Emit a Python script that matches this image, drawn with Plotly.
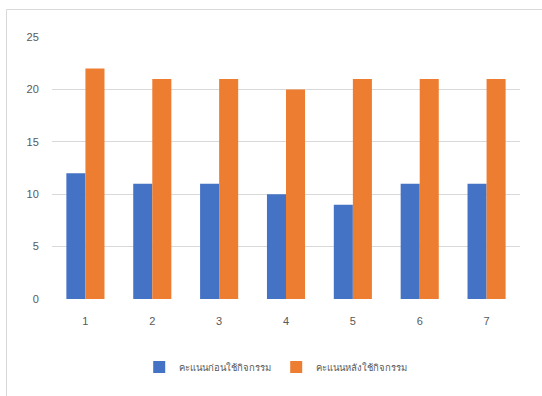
import plotly.graph_objects as go

categories = ["1", "2", "3", "4", "5", "6", "7"]
before_scores = [12, 11, 11, 10, 9, 11, 11]
after_scores = [22, 21, 21, 20, 21, 21, 21]
y_ticks = [0, 5, 10, 15, 20, 25]

fig = go.Figure()
fig.add_trace(go.Bar(x=categories, y=before_scores, name="คะแนนก่อนใช้กิจกรรม",
                     marker=dict(color="#4472C4", line=dict(width=0))))
fig.add_trace(go.Bar(x=categories, y=after_scores, name="คะแนนหลังใช้กิจกรรม",
                     marker=dict(color="#ED7D31", line=dict(width=0))))

grey_text = dict(family="Arial, Liberation Sans, sans-serif", size=11, color="#595959")

fig.update_layout(
    width=542, height=396,
    margin=dict(l=52, r=22, t=37, b=97),
    paper_bgcolor="white", plot_bgcolor="white",
    barmode="group", bargap=0.43, bargroupgap=0,
    font=grey_text,
    showlegend=True,
    legend=dict(orientation="h", x=0.478, xanchor="center", y=-0.26, yanchor="middle",
                font=dict(family="Arial, Liberation Sans, sans-serif", size=9.5, color="#595959"),
                itemwidth=30, tracegroupgap=0),
    xaxis=dict(showgrid=False, showline=False, zeroline=False,
               ticks="outside", ticklen=12, tickcolor="rgba(0,0,0,0)",
               tickfont=grey_text),
    yaxis=dict(range=[0, 25], tickvals=y_ticks, showgrid=True, gridcolor="#D9D9D9",
               gridwidth=1, zeroline=False, showline=False,
               ticks="outside", ticklen=10, tickcolor="rgba(0,0,0,0)",
               tickfont=grey_text),
    shapes=[
        dict(type="line", xref="paper", yref="paper", x0=-0.0972, x1=1.1, y0=1.105, y1=1.105,
             line=dict(color="#D9D9D9", width=1)),
        dict(type="line", xref="paper", yref="paper", x0=-0.0972, x1=-0.0972, y0=1.105, y1=-0.5,
             line=dict(color="#D9D9D9", width=1)),
    ],
)

fig.write_html("out.html")
